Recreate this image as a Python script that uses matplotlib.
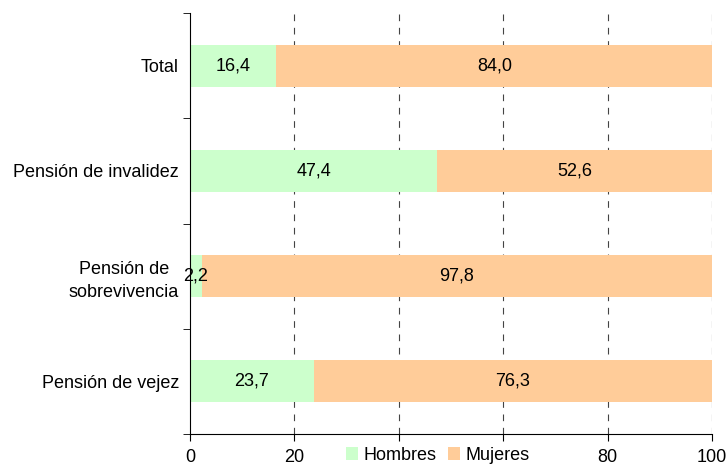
import numpy as np
import matplotlib.pyplot as plt

plt.rcParams['font.family'] = ['Liberation Sans', 'DejaVu Sans']

categorias = ['Total', 'Pensión de invalidez', 'Pensión de\nsobrevivencia', 'Pensión de vejez']
hombres = [16.4, 47.4, 2.2, 23.7]
mujeres = [84.0, 52.6, 97.8, 76.3]
xticks = [0, 20, 40, 60, 80, 100]
xticklabels = ['0', '20', '', '', '80', '100']

fs = 13

fig = plt.figure(figsize=(7.27, 4.65), dpi=100)
ax = fig.add_axes([0.2614, 0.0667, 0.7180, 0.9053])

y = np.arange(len(categorias))
ax.barh(y, hombres, height=0.4, color='#CCFFCC', label='Hombres', zorder=2)
ax.barh(y, mujeres, left=hombres, height=0.4, color='#FFCC99', label='Mujeres', zorder=2)

for i in range(len(categorias)):
    ax.text(hombres[i] / 2, y[i], f'{hombres[i]:.1f}'.replace('.', ','),
            ha='center', va='center', fontsize=fs, zorder=3)
    ax.text(hombres[i] + mujeres[i] / 2, y[i], f'{mujeres[i]:.1f}'.replace('.', ','),
            ha='center', va='center', fontsize=fs, zorder=3)

ax.set_xlim(0, 100)
ax.set_ylim(3.5, -0.5)
ax.set_xticks(xticks)
ax.set_xticklabels(xticklabels)
ax.set_yticks(y)
ax.set_yticklabels(categorias, fontsize=fs, ha='right', multialignment='center',
                   linespacing=1.45)
ax.set_yticks(np.arange(-0.5, 4, 1), minor=True)
ax.tick_params(axis='y', which='major', length=0, pad=8)
ax.tick_params(axis='y', which='minor', length=5, direction='out')
ax.tick_params(axis='x', length=5, direction='out', labelsize=fs, pad=6)

for xv in [20, 40, 60, 80, 100]:
    ax.axvline(xv, color='#444444', lw=0.8, ls=(0, (6, 6)), zorder=1)

ax.spines['top'].set_visible(False)
ax.spines['right'].set_visible(False)

leg = fig.legend(loc='lower center', bbox_to_anchor=(0.602, -0.025), ncol=2, frameon=False,
                 fontsize=fs, handlelength=0.7, handleheight=0.7, handletextpad=0.3,
                 columnspacing=0.6, borderpad=0.2)

fig.savefig('out.png', dpi=100)
